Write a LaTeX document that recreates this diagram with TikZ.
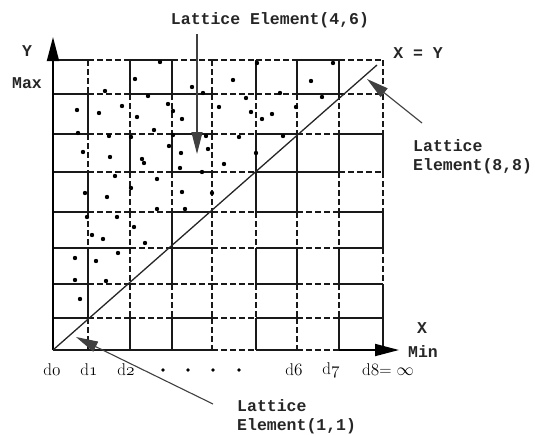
\documentclass[tikz,border=0pt]{standalone}
\usepackage{fontspec}
\newfontfamily\monof{Liberation Mono}
\usetikzlibrary{arrows.meta}
\begin{document}
\begin{tikzpicture}[x=1pt,y=-1pt,
  gS/.style={line width=1.4pt, black!90},
  gD/.style={line width=1.4pt, black!90, dash pattern=on 6pt off 3pt},
  axis/.style={line width=1.8pt, black, -{Triangle[length=24pt,width=12pt]}},
  lbl/.style={font=\monof\bfseries\fontsize{16.5}{19}\selectfont, inner sep=0pt, text=black!85},
  dlbl/.style={font=\fontsize{17}{19}\selectfont, inner sep=0pt, text=black},
  ann/.style={line width=1.1pt, black!75, -{Triangle[length=22pt,width=11pt]}},
  dot/.style={fill=black}]
\useasboundingbox (0,0) rectangle (535,434);
\def\xs{{53,88,130,172,212,256,297,339,383}}
\def\ys{{60,94,134,172,212,248,284,318,350}}
% horizontal grid segments (1 solid, 0 dashed)
\foreach \j/\pat in {0/{1,0,1,0,0,0,1,0},1/{1,0,1,1,0,0,1,0},2/{1,0,0,1,0,1,0,1},
  3/{1,0,0,1,0,1,1,0},4/{1,0,0,1,0,1,0,1},5/{1,1,0,1,0,1,0,1},6/{1,0,0,0,0,1,0,1},
  7/{1,0,0,1,0,1,0,1},8/{1,1,1,1,0,1,0,1}}{
  \pgfmathsetmacro\yy{\ys[\j]}
  \foreach \s [count=\i from 0] in \pat {
    \pgfmathsetmacro\xa{\xs[\i]}
    \pgfmathsetmacro\xb{\xs[\i+1]}
    \ifnum\s=1 \draw[gS] (\xa,\yy) -- (\xb,\yy); \else \draw[gD] (\xa,\yy) -- (\xb,\yy); \fi
  }
}
% vertical grid segments
\foreach \i/\pat in {1/{0,1,0,1,0,1,1,0},2/{1,0,1,0,0,0,0,1},3/{1,0,1,0,1,1,0,1},
  4/{0,0,0,0,0,0,0,0},5/{1,0,1,1,0,1,0,1},6/{1,0,1,1,0,1,0,0},7/{1,0,1,0,0,1,0,1},
  8/{0,0,1,0,1,0,1,1}}{
  \pgfmathsetmacro\xx{\xs[\i]}
  \foreach \s [count=\j from 0] in \pat {
    \pgfmathsetmacro\ya{\ys[\j]}
    \pgfmathsetmacro\yb{\ys[\j+1]}
    \ifnum\s=1 \draw[gS] (\xx,\ya) -- (\xx,\yb); \else \draw[gD] (\xx,\ya) -- (\xx,\yb); \fi
  }
}
% axes
\coordinate (O) at (53,350);
\coordinate (ytip) at (53,37);
\coordinate (xtip) at (399,350);
\coordinate (xs7) at (339,350);
\draw[axis] (O) -- (ytip);
\draw[axis] (xs7) -- (xtip);
% diagonal X = Y
\coordinate (dend) at (377,65);
\draw[line width=1.3pt, black!85] (O) -- (dend);
% data points
\foreach \px/\py in {160/62,135/79,105/91,148/96,192/87,203/93,233/80,246/98,
  77/110,99/113,122/106,137/117,168/104,173/111,182/119,219/107,251/112,262/119,
  78/133,109/136,131/137,154/130,173/135,206/136,239/137,83/152,110/157,142/159,
  144/163,169/146,181/153,208/149,224/164,256/153,115/176,157/179,180/168,202/172,
  85/193,107/197,131/188,182/192,212/193,87/217,117/217,157/209,185/209,92/235,
  103/239,134/227,145/243,75/258,96/261,118/253,75/280,106/281,80/299,257/63,
  333/63,311/81,280/93,322/97,296/107,272/114,283/136}
  \fill[dot] (\px,\py) circle (2.2pt);
% labels
\node[lbl] (ylab) at (27,51) {Y};
\node[lbl] (ymax) at (27,83) {Max};
\node[lbl] (xlab) at (422,328) {X};
\node[lbl] (xmin) at (423,352) {Min};
\node[lbl] (xeqy) at (418,53) {X = Y};
\node[lbl] (t46) at (270,20) {Lattice Element(4,6)};
\node[lbl, align=left, anchor=north west] (t88) at (413,139) {Lattice\\Element(8,8)};
\node[lbl, align=left, anchor=north west] (t11) at (237,399) {Lattice\\Element(1,1)};
% d labels
\node[dlbl] (d0) at (52,370) {d$\mathnormal{0}$};
\node[dlbl] (d1) at (89,370) {d$\mathnormal{1}$};
\node[dlbl] (d2) at (126,370) {d$\mathnormal{2}$};
\foreach \k/\px in {a/163,b/188,c/213,d/239}
  \fill[black] (\px,370) circle (1.8pt);
\node[dlbl] (d6) at (294,370) {d$\mathnormal{6}$};
\node[dlbl] (d7) at (331,370) {d$\mathnormal{7}$};
\node[dlbl] (d8) at (388,370) {d$\mathnormal{8}$= $\infty$};
% annotation arrows
\coordinate (a46s) at (197,34);
\coordinate (a46e) at (197,154);
\draw[ann] (a46s) -- (a46e);
\coordinate (a88s) at (422,123);
\coordinate (a88e) at (367,79);
\draw[ann] (a88s) -- (a88e);
\coordinate (a11s) at (213,404);
\coordinate (a11e) at (76,337);
\draw[ann] (a11s) -- (a11e);
\end{tikzpicture}
\end{document}
